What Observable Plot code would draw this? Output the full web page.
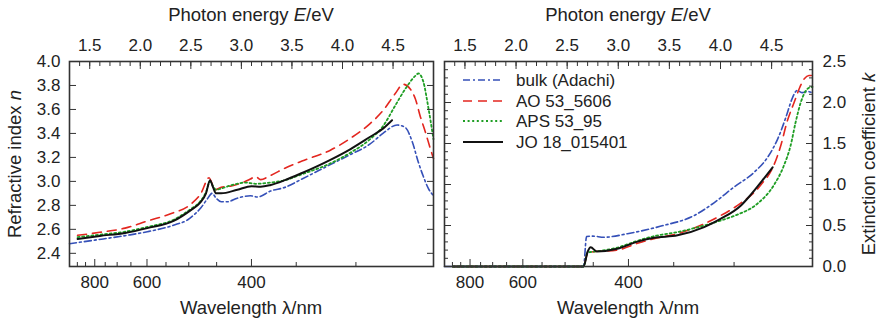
<!DOCTYPE html>
<html>
<head>
<meta charset="utf-8">
<script src="https://cdn.jsdelivr.net/npm/d3@7"></script>
<script src="https://cdn.jsdelivr.net/npm/@observablehq/plot@0.6"></script>
<style>
  body { margin: 0; background: #fff; }
  #chart { position: relative; width: 880px; height: 322px; font-family: "Liberation Sans", Arial, sans-serif; color: #222; overflow: hidden; }
  #chart svg.plot { position: absolute; top: 0; }
  .ttl { position: absolute; font-size: 18.5px; white-space: nowrap; transform: translate(-50%, -50%); line-height: 1; }
  .rot { transform: translate(-50%, -50%) rotate(-90deg); }
  .legend { position: absolute; font-size: 17px; line-height: 1; }
  .legend .row { position: absolute; white-space: nowrap; display: flex; align-items: center; }
  .legend .row svg { margin-right: 13px; }
</style>
</head>
<body>
<div id="chart"></div>
<script>
// ---------- data ----------
const hc = 1239.84; // eV·nm, converts wavelength to photon energy
const energyDomain = [1.3, 4.9];
const nDomain = [2.29, 4.0];
const kDomain = [0, 2.5];

const energyMajor = [1.5, 2.0, 2.5, 3.0, 3.5, 4.0, 4.5];
const energyMinor = d3.range(14, 49).map(i => i / 10);
const lambdaMajor = [800, 600, 400];
const lambdaMinor = [900, 850, 750, 700, 650, 550, 500, 450, 350, 300];
const nTicks = [2.4, 2.6, 2.8, 3.0, 3.2, 3.4, 3.6, 3.8, 4.0];
const kMajor = [0, 0.5, 1.0, 1.5, 2.0, 2.5];
const kMinor = d3.range(0, 26).map(i => i / 10);

// refractive index n
const bulkNE = [1.30,1.55,1.87,2.07,2.35,2.47,2.53,2.60,2.66,2.71,2.75,2.80,2.86,2.96,3.09,3.16,3.29,3.43,3.60,3.88,4.07,4.27,4.40,4.54,4.62,4.69,4.75,4.80,4.85,4.90];
const bulkN  = [2.48,2.51,2.55,2.58,2.64,2.68,2.72,2.78,2.85,2.90,2.86,2.83,2.83,2.86,2.88,2.87,2.92,2.95,3.02,3.14,3.22,3.31,3.40,3.47,3.45,3.33,3.16,3.04,2.94,2.88];
const aoNE   = [1.38,1.60,1.85,2.07,2.30,2.50,2.60,2.68,2.74,2.80,2.89,3.01,3.09,3.14,3.19,3.29,3.43,3.60,3.88,4.08,4.27,4.40,4.52,4.60,4.67,4.72,4.77,4.82,4.87,4.90];
const aoN    = [2.55,2.575,2.61,2.67,2.73,2.81,2.90,3.03,2.93,2.95,2.96,2.99,3.02,3.04,3.015,3.05,3.11,3.17,3.26,3.36,3.48,3.59,3.73,3.81,3.77,3.69,3.54,3.41,3.27,3.19];
const apsNE  = [1.38,1.60,1.85,2.07,2.33,2.50,2.59,2.65,2.69,2.72,2.75,2.80,2.89,3.04,3.14,3.29,3.43,3.60,3.88,4.08,4.27,4.40,4.52,4.62,4.72,4.75,4.80,4.84,4.87,4.90];
const apsN   = [2.535,2.555,2.58,2.62,2.68,2.77,2.83,2.91,3.00,2.96,2.93,2.94,2.965,2.99,2.98,2.99,3.01,3.06,3.15,3.24,3.35,3.46,3.63,3.77,3.88,3.90,3.83,3.66,3.51,3.35];
const joNE   = [1.38,1.60,1.85,2.07,2.33,2.50,2.59,2.65,2.69,2.72,2.75,2.80,2.96,3.10,3.19,3.29,3.43,3.60,3.88,4.08,4.27,4.40,4.49];
const joN    = [2.52,2.545,2.57,2.61,2.67,2.76,2.82,2.90,3.01,2.95,2.90,2.90,2.93,2.96,2.955,2.97,3.01,3.07,3.18,3.27,3.37,3.44,3.51];

// extinction coefficient k
const bulkKE = [1.30,2.66,2.69,2.75,2.86,3.09,3.41,3.74,3.94,4.13,4.33,4.46,4.56,4.64,4.70,4.75,4.80,4.85,4.90];
const bulkK  = [0,0,0.366,0.37,0.357,0.40,0.49,0.62,0.78,0.967,1.15,1.33,1.557,1.82,2.045,2.146,2.12,2.134,2.12];
const aoKE   = [1.38,2.66,2.70,2.76,2.99,3.18,3.35,3.58,3.84,4.00,4.16,4.39,4.52,4.59,4.65,4.72,4.77,4.82,4.865,4.90];
const aoK    = [0,0,0.16,0.18,0.20,0.28,0.34,0.40,0.52,0.62,0.74,0.988,1.23,1.475,1.76,2.0,2.167,2.29,2.33,2.33];
const apsKE  = [1.38,2.66,2.70,2.76,2.99,3.18,3.35,3.58,3.84,4.00,4.16,4.36,4.52,4.62,4.686,4.735,4.785,4.83,4.88,4.90];
const apsK   = [0,0,0.17,0.18,0.23,0.31,0.37,0.42,0.50,0.56,0.63,0.765,0.988,1.23,1.475,1.76,2.0,2.134,2.187,2.19];
const joKE   = [1.38,2.66,2.70,2.73,2.79,2.99,3.18,3.35,3.58,3.84,4.00,4.20,4.29,4.41,4.51];
const joK    = [0,0,0.18,0.235,0.183,0.216,0.30,0.35,0.38,0.48,0.58,0.744,0.866,1.05,1.21];

const seriesNames = ["bulk (Adachi)", "AO 53_5606", "APS 53_95", "JO 18_015401"];

// ---------- styles ----------
const styles = {
  "bulk (Adachi)": {stroke: "#3550b8", strokeWidth: 1.6, strokeDasharray: "7,3,2,3"},
  "AO 53_5606":    {stroke: "#e3261f", strokeWidth: 1.6, strokeDasharray: "9,6"},
  "APS 53_95":     {stroke: "#1f9e24", strokeWidth: 1.8, strokeDasharray: "2,2.6"},
  "JO 18_015401":  {stroke: "#111111", strokeWidth: 2.0, strokeDasharray: null}
};

const rows = (name, E, V) => E.map((e, i) => ({series: name, E: e, v: V[i]}));
const nData = [rows(seriesNames[0], bulkNE, bulkN), rows(seriesNames[1], aoNE, aoN), rows(seriesNames[2], apsNE, apsN), rows(seriesNames[3], joNE, joN)];
const kData = [rows(seriesNames[0], bulkKE, bulkK), rows(seriesNames[1], aoKE, aoK), rows(seriesNames[2], apsKE, apsK), rows(seriesNames[3], joKE, joK)];

const axisColor = "#333";
const fmt1 = d3.format(".1f");
const lamFmt = e => String(Math.round(hc / e));
const toE = l => hc / l;

// tick-only axis (no text) and text-only axis (no ticks)
const ticksX = (anchor, ticks, size) => Plot.axisX({anchor, ticks, tickSize: -size, fill: "none", label: null, stroke: axisColor});
const ticksY = (anchor, ticks, size) => Plot.axisY({anchor, ticks, tickSize: -size, fill: "none", label: null, stroke: axisColor});

function energyAxes() {
  return [
    ticksX("top", energyMinor, 4),
    ticksX("top", energyMajor, 7),
    Plot.axisX({anchor: "top", ticks: energyMajor, tickSize: 0, tickPadding: 11, tickFormat: fmt1, label: null, fill: "#222"}),
    ticksX("bottom", lambdaMinor.map(toE), 4),
    ticksX("bottom", lambdaMajor.map(toE), 7),
    Plot.axisX({anchor: "bottom", ticks: lambdaMajor.map(toE), tickSize: 0, tickPadding: 9, tickFormat: lamFmt, label: null, fill: "#222"})
  ];
}

function lines(data) {
  return data.map(d => Plot.line(d, {x: "E", y: "v", curve: "monotone-x", ...styles[d[0].series]}));
}

const common = {
  width: 440, height: 322, marginTop: 61, marginBottom: 56,
  style: {fontFamily: "'Liberation Sans', Arial, sans-serif", fontSize: "17px", color: "#222", background: "transparent"},
  x: {domain: energyDomain}
};

const leftPlot = Plot.plot({
  ...common,
  marginLeft: 69, marginRight: 7,
  y: {domain: nDomain},
  marks: [
    ...lines(nData),
    ...energyAxes(),
    ticksY("left", nTicks, 7),
    Plot.axisY({anchor: "left", ticks: nTicks, tickSize: 0, tickPadding: 9, tickFormat: fmt1, label: null, fill: "#222"}),
    ticksY("right", nTicks, 7),
    Plot.frame({stroke: axisColor, strokeWidth: 1.6})
  ]
});

const rightPlot = Plot.plot({
  ...common,
  marginLeft: 4, marginRight: 68,
  y: {domain: kDomain},
  marks: [
    ...lines(kData),
    ...energyAxes(),
    ticksY("left", kMinor, 4),
    ticksY("left", kMajor, 7),
    ticksY("right", kMinor, 4),
    ticksY("right", kMajor, 7),
    Plot.axisY({anchor: "right", ticks: kMajor, tickSize: 0, tickPadding: 10, tickFormat: fmt1, label: null, fill: "#222"}),
    Plot.frame({stroke: axisColor, strokeWidth: 1.6})
  ]
});

const chart = document.getElementById("chart");
leftPlot.classList.add("plot");
rightPlot.classList.add("plot");
leftPlot.style.left = "0px";
rightPlot.style.left = "440px";
chart.appendChild(leftPlot);
chart.appendChild(rightPlot);

// ---------- titles (HTML, for italics) ----------
function addTitle(html, x, y, rotate) {
  const d = document.createElement("div");
  d.className = "ttl" + (rotate ? " rot" : "");
  d.style.left = x + "px";
  d.style.top = y + "px";
  d.innerHTML = html;
  chart.appendChild(d);
}
addTitle("Photon energy <i>E</i>/eV", 251, 15);
addTitle("Photon energy <i>E</i>/eV", 628, 15);
addTitle("Wavelength λ/nm", 251, 308);
addTitle("Wavelength λ/nm", 628, 308);
addTitle("Refractive index <i>n</i>", 15, 163.5, true);
addTitle("Extinction coefficient <i>k</i>", 869, 163.5, true);

// ---------- legend ----------
const legend = document.createElement("div");
legend.className = "legend";
legend.style.left = "463px";
legend.style.top = "0px";
seriesNames.forEach((name, i) => {
  const s = styles[name];
  const row = document.createElement("div");
  row.className = "row";
  row.style.top = (72 + i * 20.7) + "px";
  row.style.left = "0px";
  row.innerHTML = `<svg width="40" height="17"><line x1="0" x2="40" y1="8" y2="8" stroke="${s.stroke}" stroke-width="${s.strokeWidth}" ${s.strokeDasharray ? `stroke-dasharray="${s.strokeDasharray}"` : ""}/></svg><span>${name}</span>`;
  legend.appendChild(row);
});
chart.appendChild(legend);
</script>
</body>
</html>
